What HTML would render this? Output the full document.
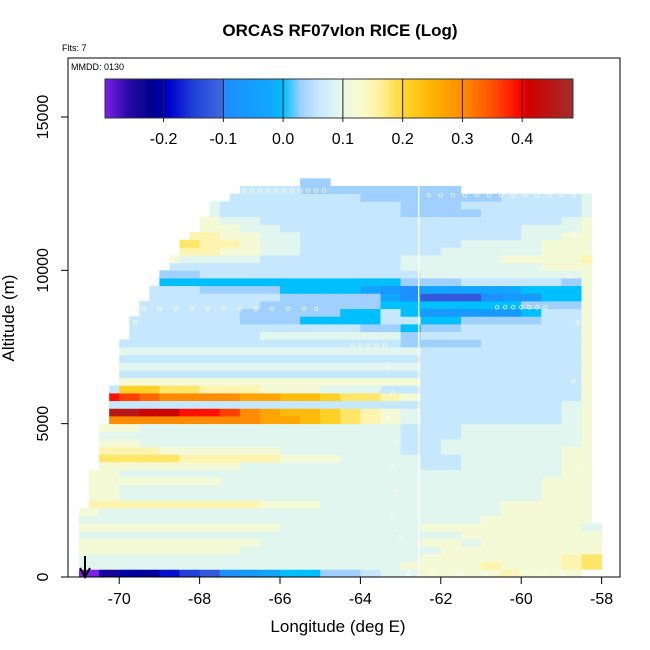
<!DOCTYPE html>
<html><head><meta charset="utf-8"><style>
html,body{margin:0;padding:0;background:#fff;}
svg{display:block;font-family:"Liberation Sans",Arial,sans-serif;}
</style></head>
<body>
<svg id="chart" width="650" height="650" viewBox="0 0 650 650" xmlns="http://www.w3.org/2000/svg">
<rect x="0" y="0" width="650" height="650" fill="#fff"/>
<text x="340" y="36" text-anchor="middle" font-size="17" font-weight="bold">ORCAS RF07vIon RICE (Log)</text>
<text x="62" y="51" font-size="9">Flts: 7</text>
<g id="heat"></g>
<g id="track"></g>
<g id="cbar"></g>
<rect x="68" y="58" width="552" height="519" fill="none" stroke="#000" stroke-width="1"/>
<text x="71" y="70" font-size="9">MMDD: 0130</text>
<g id="xaxis"></g>
<g id="yaxis"></g>
<text x="338" y="632" text-anchor="middle" font-size="17">Longitude (deg E)</text>
<text x="0" y="0" transform="translate(14,318) rotate(-90)" text-anchor="middle" font-size="17">Altitude (m)</text>
<g>
<line x1="85" y1="556" x2="85" y2="575" stroke="#000" stroke-width="2"/>
<path d="M80,568 L85,577 L90,568" fill="none" stroke="#000" stroke-width="2"/>
</g>
</svg>
<script>
// ---- data ----
const lonStart0 = -71.0;      // grid origin
const colWidth = 0.5;         // deg per column
const rowHeight = 250;        // m per row
const rowStarts = [-71,-71,-71,-71,-71,-71,-71,-71,-71,-70.75,-70.75,-70.75,-70.75,-70.75,-70.5,-70.5,-70.5,-70.5,-70.5,-70.5,-70.25,-70.25,-70.25,-70.25,-70.25,-70,-70,-70,-70,-70,-70,-69.75,-69.75,-69.75,-69.5,-69.5,-69.25,-69.25,-69,-69,-68.75,-68.75,-68.5,-68.5,-68.25,-68,-68,-67.75,-67.75,-67.25,-67,-65.5];
const rowEnds = [-58.5,-58,-58,-58,-58,-58,-58,-58.25,-58.25,-58.25,-58.25,-58.25,-58.25,-58.25,-58.25,-58.25,-58.25,-58.25,-58.25,-58.25,-58.25,-58.25,-58.25,-58.25,-58.25,-58.25,-58.25,-58.25,-58.25,-58.25,-58.25,-58.25,-58.25,-58.25,-58.25,-58.25,-58.25,-58.25,-58.25,-58.25,-58.25,-58.25,-58.25,-58.25,-58.25,-58.25,-58.25,-58.25,-58.25,-58.25,-61.5,-64.75];
const rowValues = [
"acddefghijkkllmnnoooopoooo",
"nnnnnnnnnnnnnnnnoooopooopq",
"nnnnnnnnnnnnnnnnnooooooopq",
"oooooooonnnnnnnnnnoooooooo",
"ooooooooonnnnnnnnoonoooooo",
"nnnnnnnnnnnnnnnnnnnooooooo",
"oooooooooonnnnnnnoooooooon",
"nnnnnnnnnnnnnnnnnnnnoooooo",
"onnnnnnnnnnnnnnnnnnnnooooo",
".ppppppppooonnnnnnnnnooooo",
".onnnnnnnnnnnnnnnnnnnnnooo",
".onnnnnnnnnnnnnnnnnnnnnooo",
".oooooonnnnnnnnnnnnnnnnooo",
".onnnnnnnnnnnnnnnnnnnnnnoo",
"..oooooonnnnnnnnnmmnnnnnoo",
"..qqqpppppooonnnnmmnnnnnoo",
"..ppoooooonnnnnnmmnnnnnnoo",
"..onnnnnnnnnnnnnmmnnnnnnno",
"..nnnnnnnnnnnnnnmmmnnnnnno",
"..onnnnnnnnnnnnnmmmnnnnnno",
".uuuuuuuuttsrqponmmmmmmmno",
".zzyyxxwutssrqponmmmmmmmno",
".mmmmmmmmmmmmmmmmmmmmmmmno",
".xwvuuuuttssrqqpommmmmmmmo",
".mrrqqpppooonnnmmmmmmmmmmo",
"..ooooooooooooooommmmmmmmo",
"..mmmmmmmmmmmmmmmmmmmmmmmo",
"..nnnnnnnnnnnnnnnmmmmmmmmo",
"..mmmmmmmmmmmmmmmmmmmmmmmo",
"..nnnnnnnnnnnnnnnmmmmmmmmo",
"..mmmmmmmmmmmmmmllllmmmmmo",
"...mmmmmmnnnnnnnlmmmmmmmmo",
"...mmmmmmmmmmmllkllmmmmmmo",
"...mmmmmlllkkkkmmkkllllmmo",
"...mmmmmlllllkkmkiiiiikmmo",
"...mmmmmmllllllkkkkkkklllo",
"...mmmmmmmllllljhggghiikko",
"...mmmllllkkkkjihjjjjjkkko",
"....kkkkkkkkkkkklllmmmmmlo",
"....llmmmmmmmmmmmnnnnnnnno",
"....mmmmmmmmmmmmnnnnnnnooo",
"....onnnnmmmmmmmnnnnnoooop",
".....ppoonnmmmmmmmnnnnnooo",
".....qpponnmmmmmmmmnnnnooo",
".....ppoonnmmmmmmmmmmmnnoo",
"......oonnmmmmmmmmmmmmnnno",
"......onnmmmmmmmmmmmmmmmno",
"......nmmmmmmmmmllllmmmmmn",
"......nmmmmmmmmmlllmmmmmmn",
".......mmmmmmmlllllllmmmmn",
"........mmmllllllll.......",
"...........ll............."
];
const xTicks = [-70,-68,-66,-64,-62,-60,-58];
const yTicks = [0,5000,10000,15000];
const cbTicks = [-0.2,-0.1,0.0,0.1,0.2,0.3,0.4];
const cbMin = -0.298, cbMax = 0.485;
const trackLon = [-66.9,-66.7,-66.5,-66.3,-66.1,-65.9,-65.7,-65.5,-65.3,-65.1,-64.9,-62.3,-62.0,-61.7,-61.4,-61.1,-60.8,-60.5,-60.2,-59.9,-59.6,-59.3,-59.0,-58.7,-69.4,-69.0,-68.6,-68.2,-67.8,-67.4,-67.0,-66.6,-66.2,-65.8,-65.4,-65.1,-60.6,-60.4,-60.2,-60.0,-59.8,-59.6,-59.4,-64.2,-64.0,-63.8,-63.6,-63.4,-63.3,-63.2,-63.3,-63.1,-63.2,-63.1,-63.2,-63.0,-62.8,-61.5,-60.9,-60.2,-59.6,-59.0,-58.7,-58.8,-58.6,-58.7,-58.5,-62.8,-62.2,-61.6,-60.0,-59.4,-68.9,-69.3,-69.6,-70.0,-70.3,-70.6,-70.8,-70.9];
const trackAlt = [12600,12600,12600,12600,12600,12600,12600,12600,12600,12600,12600,12450,12450,12450,12450,12450,12450,12450,12450,12450,12450,12450,12450,12450,8740,8740,8740,8740,8740,8740,8740,8740,8740,8740,8740,8740,8800,8800,8800,8800,8800,8800,8800,7550,7550,7550,7550,7550,6800,6000,5200,4400,3600,2800,2000,1300,100,100,100,100,100,100,11200,9800,8300,6400,3500,150,150,150,150,150,10300,9300,8300,7300,6300,5100,3800,2300];

// ---- helpers ----
const xs = lon => 119.2 + (lon + 70) * 40.2;
const ys = alt => 577 - alt * (460 / 15000);
const stops = [
[-0.30,[128,32,240]],[-0.26,[42,10,168]],[-0.22,[0,0,139]],[-0.19,[0,0,205]],[-0.15,[32,64,216]],[-0.1001,[65,105,225]],
[-0.1,[30,140,255]],[-0.02,[16,168,255]],[0.0,[0,191,255]],[0.015,[80,200,255]],[0.03,[160,208,255]],[0.06,[198,232,255]],
[0.09,[224,246,238]],[0.11,[238,250,222]],[0.13,[250,250,206]],[0.16,[255,243,160]],[0.2,[255,215,48]],[0.25,[255,180,0]],
[0.3,[255,140,0]],[0.35,[255,80,0]],[0.4,[255,0,0]],[0.41,[208,0,0]],[0.48,[165,42,42]]];
function cmap(v){
  if(v<=stops[0][0]) return rgb(stops[0][1]);
  for(let i=1;i<stops.length;i++){
    if(v<=stops[i][0]){
      const a=stops[i-1],b=stops[i],t=(v-a[0])/(b[0]-a[0]);
      return rgb(a[1].map((c,k)=>c+(b[1][k]-c)*t));
    }
  }
  return rgb(stops[stops.length-1][1]);
}
function rgb(c){return 'rgb('+c.map(Math.round).join(',')+')';}
const decode = ch => (ch.charCodeAt(0) - 97) * 0.03 - 0.3;
const NS = 'http://www.w3.org/2000/svg';
function mk(tag, attrs, parent){
  const e=document.createElementNS(NS,tag);
  for(const k in attrs) e.setAttribute(k,attrs[k]);
  parent.appendChild(e); return e;
}

// ---- heatmap ----
const heat=document.getElementById('heat');
rowValues.forEach((row,r)=>{
  const chars=row.split('');
  const firstIdx=chars.findIndex(c=>c!=='.');
  chars.forEach((ch,c)=>{
    let code=ch;
    const l0=lonStart0+c*colWidth, l1=l0+colWidth;
    const a=Math.max(l0,rowStarts[r]), b=Math.min(l1,rowEnds[r]);
    if(b<=a) return;
    if(code==='.'){ if(c<firstIdx) code=chars[firstIdx]; else return; }
    const x0=xs(a), x1=xs(b), y0=ys((r+1)*rowHeight), y1=ys(r*rowHeight);
    const cell=mk('rect',{x:x0.toFixed(2),y:y0.toFixed(2),width:(x1-x0+0.4).toFixed(2),height:(y1-y0+0.4).toFixed(2),fill:cmap(decode(code))},heat);
    
    
  });
});
const vline=mk('line',{x1:xs(-62.55),x2:xs(-62.55),y1:ys(0),y2:ys(12750),stroke:'#fff','stroke-width':1.3},heat);



// ---- track circles ----
const track=document.getElementById('track');
trackLon.forEach((lon,i)=>{
  const p=mk('circle',{cx:xs(lon),cy:ys(trackAlt[i]),r:1.8,fill:'none',stroke:'#fff','stroke-width':0.8,opacity:0.9},track);
  
  
});

// ---- color bar ----
const cb=document.getElementById('cbar');
const cbX0=105, cbX1=573, cbY0=79, cbY1=118;
const cbx = v => cbX0 + (v - cbMin) / (cbMax - cbMin) * (cbX1 - cbX0);
for(let x=cbX0;x<cbX1;x++){
  const v=cbMin+(x+0.5-cbX0)/(cbX1-cbX0)*(cbMax-cbMin);
  const s=mk('rect',{x:x,y:cbY0,width:1.3,height:cbY1-cbY0,fill:cmap(v)},cb);
  
  
}
mk('rect',{x:cbX0,y:cbY0,width:cbX1-cbX0,height:cbY1-cbY0,fill:'none',stroke:'#333','stroke-width':1},cb);
cbTicks.forEach(v=>{
  const x=cbx(v);
  mk('line',{x1:x,x2:x,y1:cbY0,y2:cbY1+4,stroke:'#222','stroke-width':1},cb);
  const t=mk('text',{x:x,y:144,'text-anchor':'middle','font-size':16},cb);
  t.textContent=v.toFixed(1);
  
  
});

// ---- axes ----
const xa=document.getElementById('xaxis');
xTicks.forEach(v=>{
  const x=xs(v);
  mk('line',{x1:x,x2:x,y1:577,y2:584,stroke:'#000'},xa);
  const t=mk('text',{x:x,y:604,'text-anchor':'middle','font-size':16},xa);
  t.textContent=String(v);
  
  
});
const ya=document.getElementById('yaxis');
yTicks.forEach(v=>{
  const y=ys(v);
  mk('line',{x1:61,x2:68,y1:y,y2:y,stroke:'#000'},ya);
  const t=mk('text',{x:0,y:0,transform:'translate(48,'+y+') rotate(-90)','text-anchor':'middle','font-size':16},ya);
  t.textContent=String(v);
  
  
});
</script>
</body></html>
